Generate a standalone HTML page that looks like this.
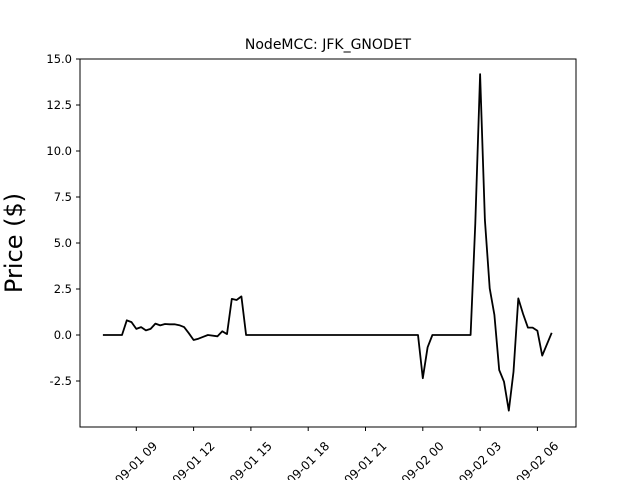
<!DOCTYPE html>
<html><head><meta charset="utf-8"><style>
body{margin:0;background:#fff}
svg text{font-family:"DejaVu Sans","Liberation Sans",sans-serif;fill:#000}
</style></head><body>
<svg id="chart" width="640" height="480" xmlns="http://www.w3.org/2000/svg">
<rect width="640" height="480" fill="#fff"/>
<text x="328" y="49" font-size="14" text-anchor="middle">NodeMCC: JFK_GNODET</text>
<text transform="translate(22,243) rotate(-90)" font-size="24" text-anchor="middle">Price ($)</text>
<g id="ticks"></g>
<path id="series" fill="none" stroke="#000" stroke-width="1.8" stroke-linejoin="round"/>
<rect x="80" y="59" width="496" height="368" fill="none" stroke="#000" stroke-width="1"/>
</svg>
<script>
const hours=[7.25,8.25,8.5,8.75,9,9.25,9.5,9.75,10,10.25,10.5,10.75,11,11.25,11.5,11.75,12,12.25,12.5,12.75,13.25,13.5,13.75,14,14.25,14.5,14.75,23.75,24,24.25,24.5,26.5,26.75,27,27.25,27.5,27.75,28,28.25,28.5,28.75,29,29.25,29.5,29.75,30,30.25,30.75];
const prices=[0,0,0.8,0.7,0.33,0.43,0.25,0.33,0.62,0.52,0.6,0.58,0.58,0.53,0.43,0.1,-0.27,-0.2,-0.1,0,-0.07,0.2,0.05,1.96,1.9,2.1,0,0,-2.35,-0.67,0,0,6.07,14.18,6.25,2.54,1.09,-1.9,-2.54,-4.11,-2.0,1.99,1.14,0.4,0.4,0.23,-1.12,0.12];
const yTicks=[-2.5,0,2.5,5,7.5,10,12.5,15];
const xTickHours=[9,12,15,18,21,24,27,30];
const xTickLabels=["09-01 09","09-01 12","09-01 15","09-01 18","09-01 21","09-02 00","09-02 03","09-02 06"];
const X=h=>136.3+(h-9)*19.1;
const Y=v=>335-v*18.4;
const ns="http://www.w3.org/2000/svg";
const g=document.getElementById('ticks');
yTicks.forEach(v=>{
 const l=document.createElementNS(ns,'line');
 
 
 l.setAttribute('x1',76);l.setAttribute('x2',80);l.setAttribute('y1',Y(v));l.setAttribute('y2',Y(v));l.setAttribute('stroke','#000');
 g.appendChild(l);
 const t=document.createElementNS(ns,'text');
 
 
 t.setAttribute('x',72);t.setAttribute('y',Y(v)+4);t.setAttribute('font-size','11.5');t.setAttribute('text-anchor','end');
 t.textContent=v.toFixed(1);g.appendChild(t);
});
xTickHours.forEach((h,i)=>{
 const x=X(h);
 const l=document.createElementNS(ns,'line');
 
 
 l.setAttribute('x1',x);l.setAttribute('x2',x);l.setAttribute('y1',427);l.setAttribute('y2',431);l.setAttribute('stroke','#000');
 g.appendChild(l);
 const t=document.createElementNS(ns,'text');
 
 
 t.setAttribute('transform','translate('+x+',463) rotate(-45)');t.setAttribute('font-size','12');t.setAttribute('text-anchor','middle');t.setAttribute('dy','4');
 t.textContent=xTickLabels[i];g.appendChild(t);
});
document.getElementById('series').setAttribute('d',hours.map((h,i)=>(i?'L':'M')+X(h).toFixed(1)+','+Y(prices[i]).toFixed(1)).join(''));
</script>
</body></html>
